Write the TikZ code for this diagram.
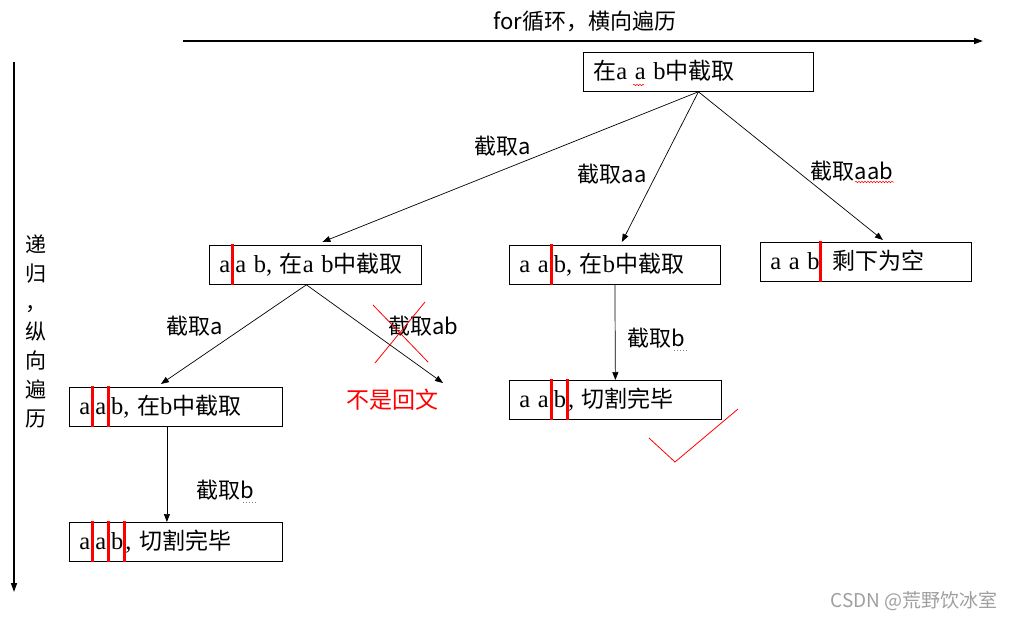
\documentclass[tikz,border=0pt]{standalone}
\usepackage{fontspec}
\setmainfont{Noto Sans CJK SC}
\newfontfamily\tmf{Liberation Serif}
\newcommand\tm{\tmf\fontsize{24.5}{28}\selectfont}
\usetikzlibrary{arrows.meta,calc,decorations.pathmorphing}
\newcommand\rbar{\makebox[0pt]{\color{red}\rule[-12.5pt]{3pt}{41pt}}}
\newcommand\rb{\kern2.5pt\rbar\kern2.5pt}
\tikzset{
  box/.style={draw, line width=0.8pt, anchor=north west, inner xsep=10pt, inner ysep=0pt,
    text height=27.5pt, text depth=11.5pt, text width=#1, align=left,
    font=\fontsize{23}{27}\selectfont},
  lbl/.style={font=\fontsize{22}{26}\selectfont, inner sep=0pt},
  conn/.style={-{Triangle[length=8pt,width=6pt]}, line width=0.7pt},
  axis/.style={-{Triangle[length=9pt,width=6pt]}, line width=1.6pt},
  redl/.style={red, line width=0.8pt},
  squig/.style={red, line width=0.5pt, decorate, decoration={snake, amplitude=0.8pt, segment length=3pt}}
}
\begin{document}
\begin{tikzpicture}[x=1pt,y=-1pt]
\useasboundingbox (0,0) rectangle (1014,621);
% axes
\coordinate (h0) at (183,41); \coordinate (h1) at (983,41);
\draw[axis] (h0) -- (h1);
\node[lbl] (htxt) at (585,21) {for循环，横向遍历};
\coordinate (v0) at (14,62); \coordinate (v1) at (14,592);
\draw[axis] (v0) -- (v1);
\node[lbl, align=center, font=\fontsize{21}{29}\selectfont] (vtxt) at (36,331) {递\\归\\，\\纵\\向\\遍\\历};
% boxes
\node[box=210pt] (root) at (583,52) {在{\tm a a b}中截取};
\node[box=192pt] (b1) at (209,245) {{\tm a\rb a b, }在{\tm a b}中截取};
\node[box=191pt] (b2) at (509,245) {{\tm a a\rb b, }在{\tm b}中截取};
\node[box=191pt] (b3) at (760,242) {{\tm a a b\kern1pt\rbar\kern12pt}剩下为空};
\node[box=193pt] (b4) at (69,387) {{\tm a\rb a\rb b, }在{\tm b}中截取};
\node[box=192pt] (b5) at (509,380) {{\tm a a\rb b\kern1pt\rbar\kern1pt, }切割完毕};
\node[box=193pt] (b6) at (69,522) {{\tm a\rb a\rb b\kern1pt\rbar\kern1pt, }切割完毕};
% labels
\node[lbl] (l1) at (503,146) {截取a};
\node[lbl] (l2) at (612,174) {截取aa};
\node[lbl] (l3) at (852,171) {截取aab};
\node[lbl] (l4) at (195,326) {截取a};
\node[lbl] (l5) at (423,326) {截取ab};
\node[lbl] (l6) at (656,338) {截取b};
\node[lbl] (l7) at (225,490) {截取b};
\node[lbl, red, font=\fontsize{23}{27}\selectfont] (np) at (392,400) {不是回文};
\node[lbl, gray!75, font=\fontsize{19}{23}\selectfont] (wm) at (914,601) {CSDN @荒野饮冰室};
% connectors
\coordinate (t1) at ($(b1.north)+(7,-3)$);
\draw[conn] (root.south) -- (t1);
\coordinate (t2) at ($(b2.north)+(7,-3)$);
\draw[conn] (root.south) -- (t2);
\coordinate (t3) at ($(b3.north)+(17,-2)$);
\draw[conn] (root.south) -- (t3);
\coordinate (s1) at ($(b1.south)+(-9,0)$);
\coordinate (t4) at ($(b4.north)+(-15,-3)$);
\draw[conn] (s1) -- (t4);
\coordinate (t5) at (443,383);
\draw[conn] (s1) -- (t5);
\draw[conn] (b2.south) -- (b5.north);
\coordinate (s4) at ($(b4.south)+(-9,0)$);
\coordinate (t6) at ($(b6.north)+(-9,0)$);
\draw[conn] (s4) -- (t6);
% red cross and check
\draw[redl] (373,305) -- (428,362);
\draw[redl] (425,302) -- (375,363);
\draw[redl] (649,438) -- (675,462) -- (738,409);
% spell-check marks
\draw[squig] (633,85) -- (644,85);
\draw[squig] (855,182) -- (894,182);
\draw[gray, line width=0.8pt, dash pattern=on 1pt off 2pt] (674,350) -- (688,350);
\draw[gray, line width=0.8pt, dash pattern=on 1pt off 2pt] (243,502) -- (256,502);
\end{tikzpicture}
\end{document}
